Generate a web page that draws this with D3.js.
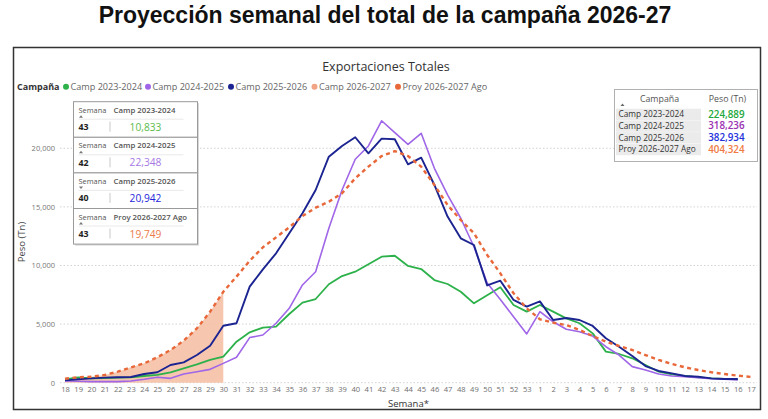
<!DOCTYPE html>
<html>
<head>
<meta charset="utf-8">
<script src="https://cdn.jsdelivr.net/npm/d3@7"></script>
<style>
  html, body { margin: 0; padding: 0; background: #fff; }
  svg { display: block; }
  text { font-family: "Open Sans", "Noto Sans", sans-serif; }
</style>
</head>
<body>
<svg id="chart" width="768" height="419"></svg>
<script>
// ---------- DATA ----------
const weeks = ["18","19","20","21","22","23","24","25","26","27","28","29","30","31","32","33","34","35","36","37","38","39","40","41","42","43","44","45","46","47","48","49","50","51","52","53","1","2","3","4","5","6","7","8","9","10","11","12","13","14","15","16","17"];

const camp2324 = [290,460,370,400,430,460,570,660,890,1230,1570,1940,2220,3500,4300,4700,4780,5860,6830,7140,8400,9100,9470,10100,10750,10833,9960,9700,8760,8420,7760,6770,7460,8140,6630,6060,6630,6060,5490,5070,4210,2650,2450,2080,1510,940,720,570,460,370,320,290,null];

const camp2425 = [150,120,90,90,90,150,290,460,370,740,940,1140,1650,2170,3850,4070,5070,6350,8340,9470,13170,16440,19060,20200,22348,21330,20340,21280,18290,16020,14030,11600,8500,7100,5630,4160,6060,5200,4560,4350,3980,3070,2360,1370,1080,740,570,510,430,340,290,230,null];

const camp2526 = [200,300,370,430,460,490,740,890,1510,1740,2360,3160,4860,5070,8200,9670,11040,12750,14450,16440,19280,20200,20942,19570,20820,20770,18630,19200,16870,14170,12320,11750,8300,8700,7060,6490,6940,5350,5520,5350,4840,3790,3070,2280,1420,1000,800,570,510,370,320,320,null];

const camp2627 = [340,460,510,660,940,1310,1650,2170,2790,3580,4640,6060,7760];

const proy2627 = [340,460,510,660,940,1310,1650,2170,2790,3580,4640,6060,7760,9050,10400,11550,12400,13260,14220,14930,15440,16160,17440,18430,19340,19749,19340,18430,16870,15160,13880,12750,10900,9330,7630,6350,5410,5120,4920,4500,3980,3500,3130,2790,2360,1940,1600,1310,1080,890,740,600,490];

const yTicks = [0, 5000, 10000, 15000, 20000];

const seriesNames = ["Camp 2023-2024","Camp 2024-2025","Camp 2025-2026","Camp 2026-2027","Proy 2026-2027 Ago"];

// tooltip cards
const cardSeries = ["Camp 2023-2024","Camp 2024-2025","Camp 2025-2026","Proy 2026-2027 Ago"];
const cardWeeks = ["43","42","40","43"];
const cardValues = [10833, 22348, 20942, 19749];

// totals table
const totalNames = ["Camp 2023-2024","Camp 2024-2025","Camp 2025-2026","Proy 2026-2027 Ago"];
const totalValues = [224889, 318236, 382934, 404324];

// ---------- STYLE ----------
const colLine = {
  "Camp 2023-2024": "#2db14a",
  "Camp 2024-2025": "#a066e8",
  "Camp 2025-2026": "#1b2490",
  "Camp 2026-2027": "#f2a285",
  "Proy 2026-2027 Ago": "#e8683a"
};
const cardColors = ["#5cbc4c", "#a678e4", "#2424dc", "#ec7a48"];
const totalColors = ["#20a83a", "#9a2fb2", "#2230dc", "#f07a44"];

const svg = d3.select("#chart");
const fmt = d3.format(",");

// Title
svg.append("text")
  .attr("x", 385).attr("y", 23)
  .attr("text-anchor", "middle")
  .style("font-family", "'Liberation Sans', Arial, sans-serif")
  .style("font-weight", "bold")
  .style("font-size", "23px")
  .attr("fill", "#111")
  .text("Proyección semanal del total de la campaña 2026-27");

// Frame
svg.append("rect")
  .attr("x", 13.5).attr("y", 47.5).attr("width", 747).attr("height", 362)
  .attr("fill", "#fff").attr("stroke", "#333").attr("stroke-width", 1.5);

// Chart subtitle
svg.append("text")
  .attr("x", 386).attr("y", 70.5)
  .attr("text-anchor", "middle")
  .style("font-size", "12.5px")
  .attr("fill", "#333")
  .text("Exportaciones Totales");

// Legend
svg.append("text").attr("x", 17).attr("y", 90)
  .style("font-size", "9px").style("font-weight", "bold").attr("fill", "#333")
  .text("Campaña");
const legX = [66, 148, 231, 314.5, 398];
seriesNames.forEach((s, i) => {
  svg.append("circle").attr("cx", legX[i]).attr("cy", 86.7).attr("r", 3)
    .attr("fill", colLine[s]);
  svg.append("text").attr("x", legX[i] + 4.5).attr("y", 90)
    .style("font-size", "9.1px").attr("fill", "#666").text(s);
});

// Scales
const x = d3.scalePoint().domain(weeks).range([65, 751]);
const y = d3.scaleLinear().domain([0, 24000]).range([382.7, 101.4]);

// Grid lines
svg.append("g").selectAll("line").data(yTicks).join("line")
  .attr("x1", 60).attr("x2", 757)
  .attr("y1", d => y(d)).attr("y2", d => y(d))
  .attr("stroke", "#c8c8c8").attr("stroke-width", 0.8)
  .attr("stroke-dasharray", "1.5,2");

// Y axis labels
const yAxis = d3.axisLeft(y).tickValues(yTicks).tickFormat(fmt).tickSize(0).tickPadding(0);
const gy = svg.append("g").attr("transform", "translate(55,0)").call(yAxis);
gy.select(".domain").remove();
gy.selectAll("text").style("font-family", "'Open Sans', sans-serif")
  .style("font-size", "7.5px").attr("fill", "#777");

// X axis labels
const xAxis = d3.axisBottom(x).tickSize(0).tickPadding(0);
const gx = svg.append("g").attr("transform", "translate(0,387)").call(xAxis);
gx.select(".domain").remove();
gx.selectAll("text").style("font-family", "'Open Sans', sans-serif")
  .style("font-size", "7.6px").attr("fill", "#707070");

// Axis titles
svg.append("text").attr("transform", "translate(25,242) rotate(-90)")
  .attr("text-anchor", "middle").style("font-size", "9.5px").attr("fill", "#444")
  .text("Peso (Tn)");
svg.append("text").attr("x", 388).attr("y", 406.5)
  .style("font-size", "9.5px").attr("fill", "#333").text("Semana*");

// Area Camp 2026-2027
const areaData = camp2627.map((v, i) => ({ w: weeks[i], v }));
svg.append("path").datum(areaData)
  .attr("d", d3.area().x(d => x(d.w)).y0(y(0)).y1(d => y(d.v)))
  .attr("fill", "#f5c0a6").attr("opacity", 0.9);

// Lines
const line = d3.line().defined(d => d.v != null).x(d => x(d.w)).y(d => y(d.v));
function drawLine(arr, color, width, dash) {
  const data = arr.map((v, i) => ({ w: weeks[i], v }));
  const p = svg.append("path").datum(data).attr("d", line)
    .attr("fill", "none").attr("stroke", color).attr("stroke-width", width)
    .attr("stroke-linejoin", "round");
  if (dash) p.attr("stroke-dasharray", dash);
}
drawLine(camp2324, colLine["Camp 2023-2024"], 1.8);
drawLine(camp2425, colLine["Camp 2024-2025"], 1.6);
drawLine(camp2526, colLine["Camp 2025-2026"], 1.9);
drawLine(proy2627, colLine["Proy 2026-2027 Ago"], 2.4, "4,3.5");

// Tooltip cards (left)
const cardTop = 101.7, cardH = 35.6;
cardSeries.forEach((s, i) => {
  const g = svg.append("g").attr("transform", `translate(73.5,${cardTop + i * cardH})`);
  g.append("rect").attr("x", 1.5).attr("y", 1.5).attr("width", 124).attr("height", cardH)
    .attr("fill", "#d8d8d8");
  g.append("rect").attr("x", 0).attr("y", 0).attr("width", 124).attr("height", cardH)
    .attr("fill", "#fff").attr("stroke", "#9a9a9a").attr("stroke-width", 1);
  g.append("text").attr("x", 5).attr("y", 11)
    .style("font-size", "7.4px").attr("fill", "#555").text("Semana");
  g.append("text").attr("x", 40).attr("y", 11)
    .style("font-size", "7.8px").style("font-weight", "600").attr("fill", "#555").text(s);
  g.append("path")
    .attr("d", i === 2 ? "M5.5,13.5 L9.5,13.5 L7.5,16 Z" : "M5.5,16 L9.5,16 L7.5,13.5 Z")
    .attr("fill", "#777");
  g.append("line").attr("x1", 5).attr("x2", 110).attr("y1", 17.5).attr("y2", 17.5)
    .attr("stroke", "#e4e4e4").attr("stroke-width", 0.8);
  g.append("line").attr("x1", 36.5).attr("x2", 36.5).attr("y1", 20).attr("y2", 30)
    .attr("stroke", "#bbb").attr("stroke-width", 0.8);
  g.append("text").attr("x", 5).attr("y", 28.5)
    .style("font-size", "8.8px").style("font-weight", "bold").attr("fill", "#222").text(cardWeeks[i]);
  g.append("text").attr("x", 72).attr("y", 29).attr("text-anchor", "middle")
    .style("font-size", "10.2px").attr("fill", cardColors[i]).text(fmt(cardValues[i]));
});

// Totals table (right)
const tg = svg.append("g").attr("transform", "translate(614.5,89.5)");
tg.append("rect").attr("x", 0).attr("y", 0).attr("width", 143).attr("height", 72)
  .attr("fill", "#fff").attr("stroke", "#b0b0b0").attr("stroke-width", 1);
tg.append("text").attr("x", 45).attr("y", 12).attr("text-anchor", "middle")
  .style("font-size", "8.8px").attr("fill", "#555").text("Campaña");
tg.append("text").attr("x", 113).attr("y", 12).attr("text-anchor", "middle")
  .style("font-size", "8.8px").attr("fill", "#555").text("Peso (Tn)");
tg.append("path").attr("d", "M6,16.5 L10,16.5 L8,14 Z").attr("fill", "#666");
totalNames.forEach((s, i) => {
  const cy = 24.8 + i * 11.7;
  tg.append("rect").attr("x", 1.5).attr("y", cy - 5.6).attr("width", 85).attr("height", 11.4)
    .attr("fill", "#ebebeb");
  tg.append("text").attr("x", 4).attr("y", cy + 2.9)
    .style("font-size", "8.3px").attr("fill", "#333").text(s);
  tg.append("text").attr("x", 130).attr("y", cy + 3.3).attr("text-anchor", "end")
    .style("font-size", "9.8px").style("font-weight", "600").attr("fill", totalColors[i])
    .text(fmt(totalValues[i]));
});
</script>
</body>
</html>
